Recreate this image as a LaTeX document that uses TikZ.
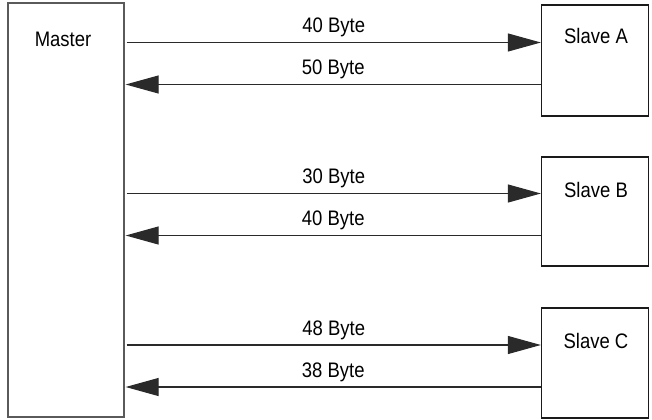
\documentclass[tikz,border=0pt]{standalone}
\usepackage{fontspec}
\setmainfont{Liberation Sans}[FakeStretch=0.88]
\usetikzlibrary{calc,arrows.meta}
\definecolor{frame}{HTML}{1A1A1A}
\definecolor{mframe}{HTML}{5A5A5A}
\definecolor{wire}{HTML}{2A2A2A}
\tikzset{
  box/.style={draw=frame, line width=1.3bp, inner sep=0pt, minimum width=107bp},
  mbox/.style={draw=mframe, line width=1.3bp, inner sep=0pt},
  msg/.style={-{Triangle[length=33bp,width=18bp]}, draw=wire, line width=1.1bp},
  lab/.style={font=\fontsize{21bp}{24bp}\selectfont, inner sep=0pt},
  bytes/.style={lab, midway, anchor=base, yshift=10bp}
}
\begin{document}
\begin{tikzpicture}[x=1bp,y=1bp]
  \useasboundingbox (0,0) rectangle (652,419);

  % master and slaves
  \node[mbox, minimum width=116bp, minimum height=414bp] (master) at (66,209) {};
  \node[box, minimum height=111bp] (slaveA) at (595,358.5) {};
  \node[box, minimum height=109bp] (slaveB) at (595,207.5) {};
  \node[box, minimum height=110bp] (slaveC) at (595,56) {};

  \node[lab] (mastertxt) at ($(master.north)+(-3,-37)$) {Master};
  \node[lab] (slaveAtxt) at ($(slaveA.north)+(1,-32)$) {Slave A};
  \node[lab] (slaveBtxt) at ($(slaveB.north)+(1,-34)$) {Slave B};
  \node[lab] (slaveCtxt) at ($(slaveC.north)+(1,-34)$) {Slave C};

  % requests and replies
  \draw[msg] ($(master.east |- slaveA.center)+(2,18)$) -- ($(slaveA.west)+(0,18)$) node[bytes] {40 Byte};
  \draw[msg] ($(slaveA.west)+(0,-24)$) -- ($(master.east |- slaveA.center)+(1,-24)$) node[bytes] {50 Byte};

  \draw[msg] ($(master.east |- slaveB.center)+(2,18)$) -- ($(slaveB.west)+(0,18)$) node[bytes] {30 Byte};
  \draw[msg] ($(slaveB.west)+(0,-24)$) -- ($(master.east |- slaveB.center)+(1,-24)$) node[bytes] {40 Byte};

  \draw[msg] ($(master.east |- slaveC.center)+(2,18)$) -- ($(slaveC.west)+(0,18)$) node[bytes] {48 Byte};
  \draw[msg] ($(slaveC.west)+(0,-24)$) -- ($(master.east |- slaveC.center)+(1,-24)$) node[bytes] {38 Byte};
\end{tikzpicture}
\end{document}
